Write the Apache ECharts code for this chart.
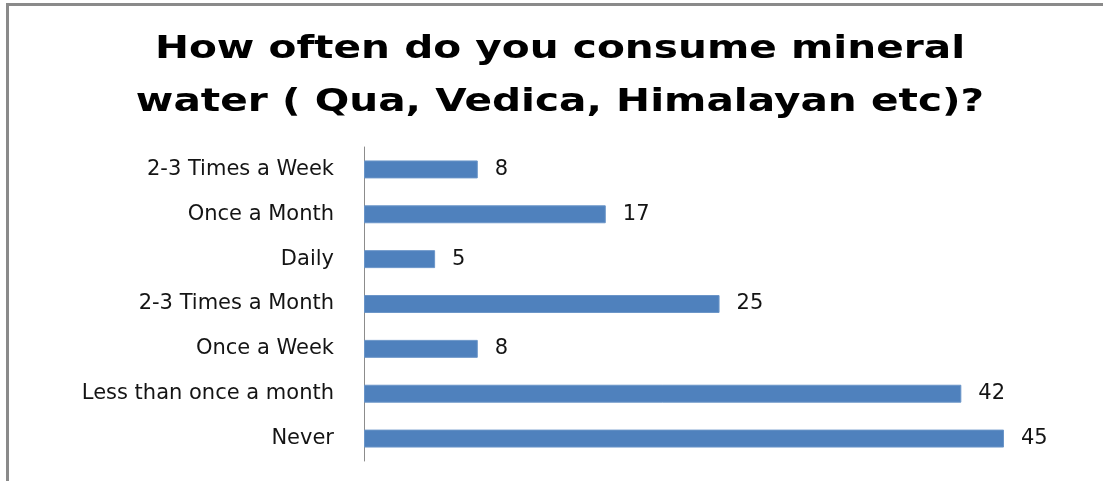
<!DOCTYPE html>
<html>
<head>
<meta charset="utf-8">
<script src="https://cdn.jsdelivr.net/npm/echarts@6/dist/echarts.min.js"></script>
<style>
  html, body { margin: 0; padding: 0; background: #fff; }
  #chart { width: 1103px; height: 481px; }
</style>
</head>
<body>
<div id="chart"></div>
<script>
// Survey answers, listed top to bottom
const categories = [
  '2-3 Times a Week',
  'Once a Month',
  'Daily',
  '2-3 Times a Month',
  'Once a Week',
  'Less than once a month',
  'Never'
];
const responses = [8, 17, 5, 25, 8, 42, 45];
const titleLines = [
  'How often do you consume mineral',
  'water ( Qua, Vedica, Himalayan etc)?'
];

const chart = echarts.init(document.getElementById('chart'), null, { renderer: 'canvas' });

// title lines, drawn wide like the original slide heading
const titleTexts = titleLines.map((line, i) => ({
  type: 'text',
  x: 560,
  y: 50 + i * 53,
  scaleX: 1.27,
  originX: 0,
  style: {
    text: line,
    fill: '#000',
    fontFamily: 'DejaVu Sans',
    fontWeight: 'bold',
    fontSize: 32,
    align: 'center',
    verticalAlign: 'middle'
  }
}));

chart.setOption({
  backgroundColor: '#ffffff',
  animation: false,
  grid: { left: 364, right: 99, top: 147, bottom: 20, containLabel: false },
  xAxis: {
    type: 'value',
    min: 0,
    max: 45,
    show: false
  },
  yAxis: {
    type: 'category',
    data: categories,
    inverse: true,
    axisLine: { show: true, lineStyle: { color: '#8c8c8c', width: 1 } },
    axisTick: { show: false },
    axisLabel: {
      margin: 30,
      color: '#141414',
      fontFamily: 'DejaVu Sans',
      fontSize: 21
    },
    splitLine: { show: false }
  },
  series: [{
    type: 'bar',
    data: responses,
    barCategoryGap: '60%',
    itemStyle: { color: '#4f81bd', borderColor: '#6a95c8', borderWidth: 1 },
    label: {
      show: true,
      position: 'right',
      distance: 17,
      color: '#141414',
      fontFamily: 'DejaVu Sans',
      fontSize: 21
    }
  }],
  graphic: [
    // frame along the top and left edges
    { type: 'rect', shape: { x: 6, y: 3, width: 1097, height: 3 }, style: { fill: '#8a8a8a' }, silent: true },
    { type: 'rect', shape: { x: 6, y: 3, width: 3, height: 478 }, style: { fill: '#8a8a8a' }, silent: true }
  ].concat(titleTexts)
});
</script>
</body>
</html>
